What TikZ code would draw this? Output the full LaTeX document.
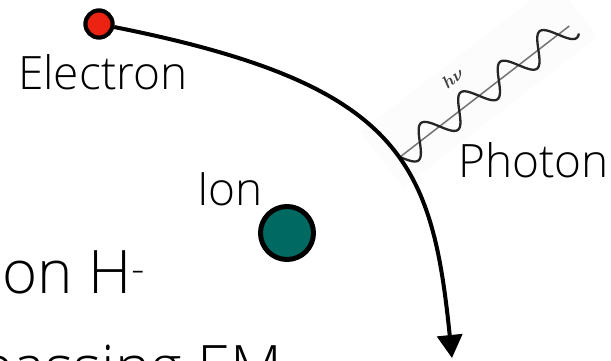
\documentclass[tikz,border=0pt]{standalone}
\usepackage{fontspec}
\IfFontExistsTF{Open Sans Light}{\setmainfont{Open Sans Light}}{\setmainfont{Open Sans}}
\usetikzlibrary{arrows.meta}
\definecolor{electronred}{RGB}{236,34,18}
\definecolor{ionteal}{RGB}{0,106,98}
\begin{document}
\begin{tikzpicture}[x=1pt,y=1pt,
  caption/.style={inner sep=0pt, anchor=base west, font=\fontsize{46}{50}\selectfont},
  bigcaption/.style={inner sep=0pt, anchor=base west, font=\fontsize{60}{66}\selectfont},
  particle/.style={circle, draw=black, inner sep=0pt},
  track/.style={line width=4pt, -{Triangle[length=23pt,width=25pt]}},
  quantum/.style={rotate=37.74, inner sep=0pt, text=black!75, font=\fontsize{17}{17}\selectfont\boldmath},
]
\useasboundingbox (0,-361) rectangle (611,0);
\clip (0,-361) rectangle (611,0);

% photon: straight axis with a wave wound around it
\begin{scope}[shift={(400,-157)}, rotate=37.74]
  \fill[black!1.2] (-16,-26) rectangle (230,44);
  \draw[black!55, line width=1.5pt] (0,0) -- (214,0);
  \draw[black!85, line width=2.3pt] plot[domain=0:217, samples=240, smooth]
    (\x,{-14*sin(\x*7.2)});
  \node[quantum] (hnu) at (90,30) {$h\nu$};
\end{scope}

% particles
\node[particle, fill=electronred, line width=4pt, minimum size=27pt] (el) at (99,-24) {};
\node[particle, fill=ionteal, line width=5pt, minimum size=53pt] (ion) at (287,-233) {};
\coordinate (tip) at (452,-358);

% electron path bent by the ion
\draw[track] (el) .. controls (400,-84) and (432,-160) .. (tip);
\node[particle, fill=electronred, line width=4pt, minimum size=27pt] at (el) {};

% labels
\node[caption] (eltext) at (18,-89) {Electron};
\node[caption] (iontext) at (197,-205) {Ion};
\node[caption] (phtext) at (458,-177) {Photon};
\node[bigcaption] (hminus) at (2,-293) {on H\textsuperscript{-}};
\node[bigcaption] (emtext) at (-22,-388) {passing EM};
\end{tikzpicture}
\end{document}
